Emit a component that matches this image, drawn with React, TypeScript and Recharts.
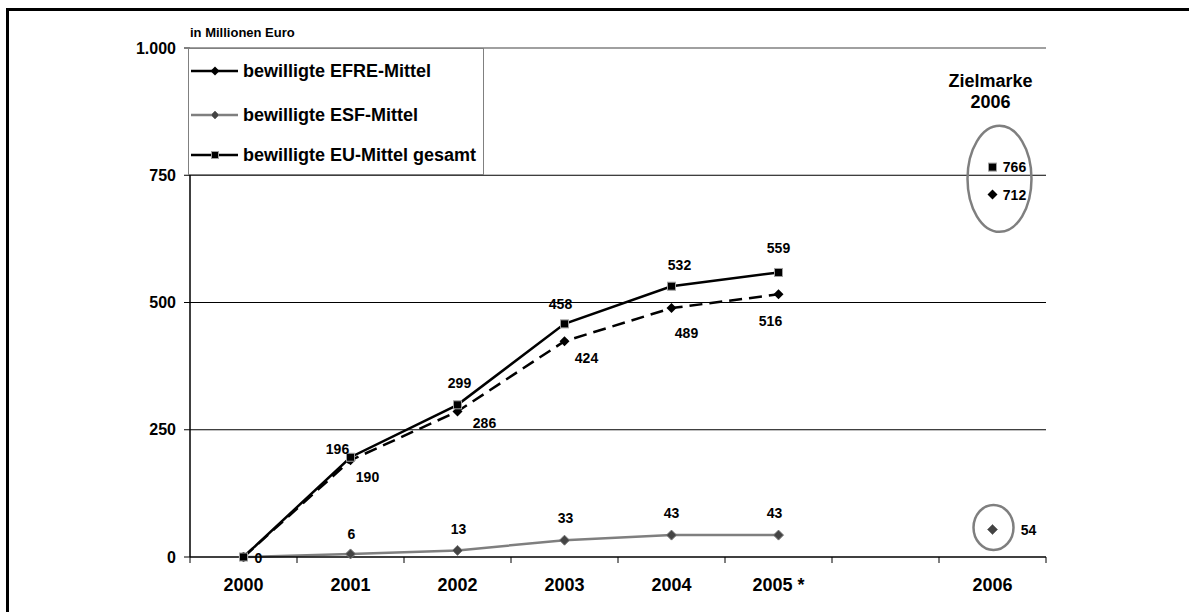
import React from "react";
import { LabelList, Line, LineChart, ReferenceDot, ReferenceLine, XAxis, YAxis } from "recharts";

const years = ["2000", "2001", "2002", "2003", "2004", "2005 *", "", "2006"];
const efre = [0, 190, 286, 424, 489, 516, null, 712];
const esf = [0, 6, 13, 33, 43, 43, null, 54];
const euTotal = [0, 196, 299, 458, 532, 559, null, 766];
const yTicks = [0, 250, 500, 750, 1000];

// label placement around each point: [dx, dy] of the label centre, null = no label
const efreLabelPos = [null, [17, 17], [27, 12], [22, 17], [15, 25], [-8, 27], null, [22, 0]];
const esfLabelPos = [null, [1, -20], [1, -21], [1, -22], [0, -22], [-4, -22], null, [36, 0]];
const euLabelPos = [[15, 1], [-13, -8], [2, -22], [-4, -20], [8, -21], [0, -24], null, [22, 0]];

const data = years.map((year, i) => ({ year, efre: efre[i], esf: esf[i], eu: euTotal[i] }));

const W = 1189;
const H = 612;
const M = { top: 48, right: 143, bottom: 25, left: 130 };
const PLOT_W = W - M.left - M.right - 60;
const BAND = PLOT_W / years.length;
const FONT = "'Liberation Sans', Arial, sans-serif";
const GREY = "#7f7f7f";

const fmt = (v: number) => String(v).replace(/\B(?=(\d{3})+(?!\d))/g, ".");

function Diamond(props: any) {
  const { cx, cy, r = 5, fill = "#000", stroke = "none" } = props;
  if (cx == null || cy == null) return null;
  return (
    <path
      d={`M${cx},${cy - r}L${cx + r},${cy}L${cx},${cy + r}L${cx - r},${cy}Z`}
      fill={fill}
      stroke={stroke}
      strokeWidth={1}
    />
  );
}

function Square(props: any) {
  const { cx, cy, s = 8 } = props;
  if (cx == null || cy == null) return null;
  return <rect x={cx - s / 2} y={cy - s / 2} width={s} height={s} fill="#000" stroke="#a0a0a0" strokeWidth={1} />;
}

const makeLabel = (pos: (number[] | null)[]) => (props: any) => {
  const { x, y, value, index } = props;
  const p = pos[index];
  if (!p || value == null) return null;
  return (
    <text
      x={x + p[0]}
      y={y + p[1]}
      textAnchor="middle"
      dominantBaseline="central"
      fontFamily={FONT}
      fontWeight="bold"
      fontSize={14}
      fill="#000"
    >
      {value}
    </text>
  );
};

function YearTick(props: any) {
  const { x, y, payload } = props;
  const half = BAND / 2;
  const last = payload.value === years[years.length - 1];
  return (
    <g>
      <line x1={x - half} x2={x - half} y1={y} y2={y + 6} stroke="#000" />
      {last && <line x1={x + half} x2={x + half} y1={y} y2={y + 6} stroke="#000" />}
      <text x={x} y={y + 34} textAnchor="middle" fontFamily={FONT} fontWeight="bold" fontSize={18} fill="#000">
        {payload.value}
      </text>
    </g>
  );
}

function TargetRing(props: any) {
  const { cx, cy } = props;
  if (cx == null) return null;
  return (
    <g>
      <text x={cx - 2} y={cy - 94} textAnchor="middle" fontFamily={FONT} fontWeight="bold" fontSize={18} fill="#000">
        Zielmarke
      </text>
      <text x={cx - 2} y={cy - 73} textAnchor="middle" fontFamily={FONT} fontWeight="bold" fontSize={18} fill="#000">
        2006
      </text>
      <ellipse cx={cx + 7} cy={cy - 2} rx={32} ry={53} fill="none" stroke={GREY} strokeWidth={2.5} />
    </g>
  );
}

function SmallRing(props: any) {
  const { cx, cy } = props;
  if (cx == null) return null;
  return <ellipse cx={cx + 1} cy={cy - 2} rx={20} ry={22.5} fill="none" stroke={GREY} strokeWidth={2.5} />;
}

const legendItems = [
  { name: "bewilligte EFRE-Mittel", color: "#000", marker: "diamond" },
  { name: "bewilligte ESF-Mittel", color: GREY, marker: "greyDiamond" },
  { name: "bewilligte EU-Mittel gesamt", color: "#000", marker: "square" },
];

function LegendBox() {
  return (
    <div
      style={{
        position: "absolute",
        left: 188,
        top: 48,
        width: 296,
        height: 127,
        border: "1px solid #808080",
        background: "#fff",
        fontFamily: FONT,
        fontWeight: "bold",
        fontSize: 18,
        boxSizing: "border-box",
      }}
    >
      {legendItems.map((item, i) => (
        <div
          key={item.name}
          style={{ position: "absolute", left: 2, top: [22, 66, 106][i] - 11, height: 22, display: "flex", alignItems: "center" }}
        >
          <svg width={48} height={14} style={{ display: "block" }}>
            <line x1={0} x2={47} y1={7} y2={7} stroke={item.color} strokeWidth={2.5} />
            {item.marker === "diamond" && <Diamond cx={24} cy={7} r={4.5} />}
            {item.marker === "greyDiamond" && <Diamond cx={24} cy={7} r={4} fill="#444" stroke="#777" />}
            {item.marker === "square" && <Square cx={24} cy={7} s={7} />}
          </svg>
          <span style={{ marginLeft: 4, whiteSpace: "nowrap" }}>{item.name}</span>
        </div>
      ))}
    </div>
  );
}

export default function App() {
  return (
    <div style={{ position: "relative", width: W, height: H, background: "#fff", overflow: "hidden" }}>
      <style>{"body{margin:0}"}</style>
      <div
        style={{
          position: "absolute",
          left: 6,
          top: 8,
          right: -4,
          bottom: -4,
          borderLeft: "3px solid #000",
          borderTop: "3px solid #000",
        }}
      />
      <div
        style={{
          position: "absolute",
          left: 190,
          top: 25,
          fontFamily: FONT,
          fontWeight: "bold",
          fontSize: 13,
          lineHeight: "15px",
        }}
      >
        in Millionen Euro
      </div>
      <LineChart width={W} height={H} data={data} margin={M}>
        <XAxis
          dataKey="year"
          type="category"
          scale="band"
          axisLine={{ stroke: "#000", strokeWidth: 1.5 }}
          tickLine={false}
          tickSize={0}
          tickMargin={0}
          interval={0}
          height={30}
          tick={<YearTick />}
        />
        <YAxis
          yAxisId="left"
          domain={[0, 1000]}
          ticks={yTicks}
          width={60}
          axisLine={{ stroke: "#000", strokeWidth: 1.5 }}
          tickLine={{ stroke: "#000" }}
          tickSize={6}
          tickMargin={8}
          tickFormatter={fmt}
          tick={{ fontFamily: FONT, fontWeight: "bold", fontSize: 16, fill: "#000" }}
        />
        <YAxis
          yAxisId="right"
          orientation="right"
          domain={[0, 1000]}
          width={0}
          tick={false}
          tickLine={false}
          axisLine={{ stroke: "#808080", strokeWidth: 1.5 }}
        />
        {yTicks.slice(1, -1).map((v) => (
          <ReferenceLine key={v} yAxisId="left" y={v} stroke="#000" strokeWidth={1} />
        ))}
        <ReferenceLine yAxisId="left" y={1000} stroke="#808080" strokeWidth={1.5} />
        <ReferenceDot
          yAxisId="left"
          x="2006"
          y={(efre[7]! + euTotal[7]!) / 2}
          shape={(p: any) => <TargetRing {...p} />}
        />
        <ReferenceDot yAxisId="left" x="2006" y={esf[7]!} shape={(p: any) => <SmallRing {...p} />} />
        <Line
          yAxisId="left"
          dataKey="esf"
          stroke={GREY}
          strokeWidth={2.5}
          dot={(p: any) => <Diamond key={`esf${p.index}`} {...p} r={5} fill="#444" stroke="#777" />}
          activeDot={false}
          isAnimationActive={false}
        >
          <LabelList dataKey="esf" content={makeLabel(esfLabelPos)} />
        </Line>
        <Line
          yAxisId="left"
          dataKey="efre"
          stroke="#000"
          strokeWidth={2.5}
          strokeDasharray="13 7"
          dot={(p: any) => <Diamond key={`efre${p.index}`} {...p} r={5} fill="#000" stroke="none" />}
          activeDot={false}
          isAnimationActive={false}
        >
          <LabelList dataKey="efre" content={makeLabel(efreLabelPos)} />
        </Line>
        <Line
          yAxisId="left"
          dataKey="eu"
          stroke="#000"
          strokeWidth={2.5}
          dot={(p: any) => <Square key={`eu${p.index}`} {...p} s={8} />}
          activeDot={false}
          isAnimationActive={false}
        >
          <LabelList dataKey="eu" content={makeLabel(euLabelPos)} />
        </Line>
      </LineChart>
      <LegendBox />
    </div>
  );
}
